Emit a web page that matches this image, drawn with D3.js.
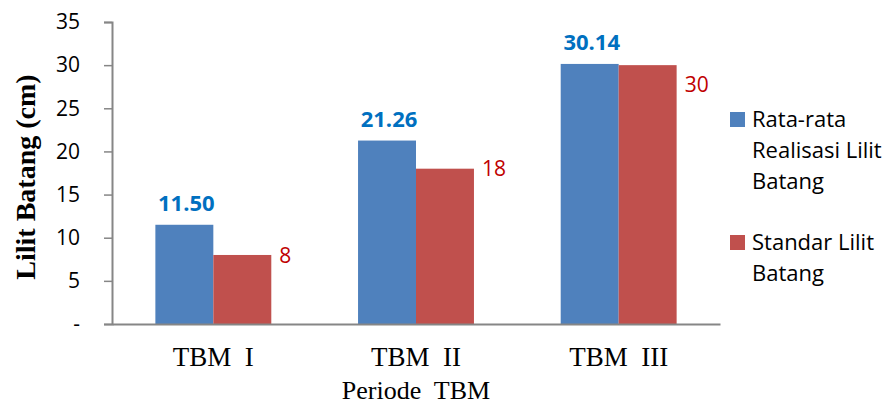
<!DOCTYPE html>
<html>
<head>
<meta charset="utf-8">
<script src="https://cdn.jsdelivr.net/npm/d3@7"></script>
<style>
  html, body { margin: 0; padding: 0; background: #fff; }
  svg { display: block; }
</style>
</head>
<body>
<svg id="chart" width="891" height="405"></svg>
<script>
// Chart data
const periods = ["TBM  I", "TBM  II", "TBM  III"];
const realisasi = [11.50, 21.26, 30.14];
const standar = [8, 18, 30];
const seriesNames = ["Rata-rata Realisasi Lilit Batang", "Standar Lilit Batang"];
const yTicks = [0, 5, 10, 15, 20, 25, 30, 35];

const svg = d3.select("#chart");
const margin = { left: 112, right: 171, top: 22, bottom: 81 };
const W = 891, H = 405;
const innerW = W - margin.left - margin.right;
const innerH = H - margin.top - margin.bottom;

const barColors = ["#4F81BD", "#C0504D"];
const labelColors = ["#0070C0", "#C00000"];
const sans = "'Open Sans', 'Noto Sans', sans-serif";
const serif = "'Liberation Serif', 'DejaVu Serif', serif";

const g = svg.append("g").attr("transform", `translate(${margin.left},${margin.top})`);

const x0 = d3.scaleBand().domain(periods).range([0, innerW]).paddingInner(0.428).paddingOuter(0.214);
const x1 = d3.scaleBand().domain([0, 1]).range([0, x0.bandwidth()]);
const y = d3.scaleLinear().domain([0, 35]).range([innerH, 0]);

const rows = periods.map((p, i) => ({ period: p, values: [realisasi[i], standar[i]] }));

// Bars
const groups = g.selectAll("g.grp").data(rows).join("g")
  .attr("class", "grp")
  .attr("transform", d => `translate(${x0(d.period)},0)`);

groups.selectAll("rect").data(d => d.values.map((v, s) => ({ v, s }))).join("rect")
  .attr("x", d => x1(d.s))
  .attr("y", d => y(d.v))
  .attr("width", x1.bandwidth())
  .attr("height", d => innerH - y(d.v))
  .attr("fill", d => barColors[d.s]);

// Value labels: realisasi above the bar, standar to the right of the bar
groups.append("text")
  .attr("x", x1(0) + x1.bandwidth() / 2 + 2)
  .attr("y", d => y(d.values[0]) - 14)
  .attr("text-anchor", "middle")
  .attr("font-family", sans)
  .attr("font-weight", "bold")
  .attr("font-size", 22)
  .attr("fill", labelColors[0])
  .text(d => d.values[0].toFixed(2));

const standarNudge = [0, 0, 19];
groups.append("text")
  .attr("x", x1(1) + x1.bandwidth() + 8)
  .attr("y", (d, i) => y(d.values[1]) + standarNudge[i])
  .attr("dy", "0.36em")
  .attr("font-family", sans)
  .attr("font-size", 21)
  .attr("fill", labelColors[1])
  .text(d => d3.format("d")(d.values[1]));

// Y axis
const yAxis = g.append("g")
  .call(d3.axisLeft(y).tickValues(yTicks).tickSize(8).tickPadding(24)
    .tickFormat(d => d === 0 ? "-" : d));
yAxis.select(".domain").attr("stroke", "#868686").attr("stroke-width", 2);
yAxis.selectAll(".tick line").attr("stroke", "#868686").attr("stroke-width", 1.5);
yAxis.selectAll(".tick text").attr("font-family", sans).attr("font-size", 21).attr("fill", "#000");

// X axis
const xAxis = g.append("g").attr("transform", `translate(0,${innerH})`)
  .call(d3.axisBottom(x0).tickSize(0).tickPadding(0));
xAxis.select(".domain").attr("stroke", "#868686").attr("stroke-width", 2);
xAxis.selectAll(".tick text")
  .attr("y", 42).attr("dy", null)
  .attr("font-family", serif).attr("font-size", 27).attr("fill", "#000")
  .style("white-space", "pre");

// Axis titles
svg.append("text")
  .attr("x", margin.left + innerW / 2)
  .attr("y", 399)
  .attr("text-anchor", "middle")
  .attr("font-family", serif)
  .attr("font-size", 26)
  .style("white-space", "pre")
  .text("Periode  TBM");

svg.append("text")
  .attr("transform", "translate(35,177) rotate(-90)")
  .attr("text-anchor", "middle")
  .attr("font-family", serif)
  .attr("font-weight", "bold")
  .attr("font-size", 28)
  .text("Lilit Batang (cm)");

// Legend
const legendLines = [["Rata-rata", "Realisasi Lilit", "Batang"], ["Standar Lilit", "Batang"]];
const legendTop = [112, 235];
legendLines.forEach((lines, s) => {
  const lg = svg.append("g").attr("transform", `translate(730,${legendTop[s]})`);
  lg.append("rect").attr("width", 15).attr("height", 15).attr("fill", barColors[s]);
  lines.forEach((t, k) => {
    lg.append("text")
      .attr("x", 22)
      .attr("y", 15 + k * 31)
      .attr("font-family", sans)
      .attr("font-size", 22)
      .attr("fill", "#000")
      .text(t);
  });
});
</script>
</body>
</html>
